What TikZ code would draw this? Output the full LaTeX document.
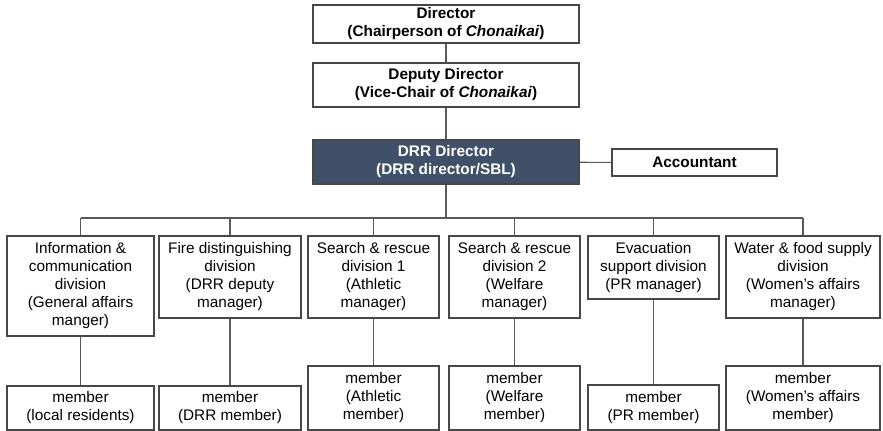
\documentclass[tikz,border=0pt]{standalone}
\usepackage{fontspec}
\setmainfont{Liberation Sans}
\begin{document}
\begin{tikzpicture}[x=0.75pt,y=-0.75pt,
  box/.style={draw=black!72, line width=0.8pt, fill=white, align=center,
    inner sep=0pt, font=\fontsize{11.5}{13.5}\selectfont},
  headbox/.style={box, font=\fontsize{11.5}{13.5}\selectfont\bfseries},
  leadbox/.style={headbox, fill=drrblue, text=white},
  sz/.style 2 args={minimum width=#1*0.75pt, minimum height=#2*0.75pt},
  link/.style={draw=black!65, line width=0.8pt}]
\definecolor{drrblue}{HTML}{3F5068}
\useasboundingbox (0,0) rectangle (883,431);

% leadership chain
\node[headbox, sz={266}{38}] (dir) at (446,24) {Director\\(Chairperson of \textit{Chonaikai})};
\node[headbox, sz={266}{44}] (dep) at (446,85) {Deputy Director\\(Vice-Chair of \textit{Chonaikai})};
\node[leadbox, sz={266}{44}] (drr) at (446,162) {DRR Director\\(DRR director/SBL)};
\node[headbox, sz={165}{27}] (acc) at (694.5,162.5) {Accountant};

% divisions
\node[box, sz={147}{100}] (d1) at (80.5,286) {Information \&\\communication\\division\\(General affairs\\manger)};
\node[box, sz={142}{82}] (d2) at (230,277) {Fire distinguishing\\division\\(DRR deputy\\manager)};
\node[box, sz={131}{82}] (d3) at (373.5,277) {Search \& rescue\\division 1\\(Athletic\\manager)};
\node[box, sz={131}{82}] (d4) at (514.5,277) {Search \& rescue\\division 2\\(Welfare\\manager)};
\node[box, sz={131}{63}] (d5) at (653.5,267.5) {Evacuation\\support division\\(PR manager)};
\node[box, sz={154}{82}] (d6) at (803,277) {Water \& food supply\\division\\(Women’s affairs\\manager)};

% members
\node[box, sz={147}{44}] (m1) at (80.5,408) {member\\(local residents)};
\node[box, sz={142}{44}] (m2) at (230,408) {member\\(DRR member)};
\node[box, sz={131}{64}] (m3) at (373.5,398) {member\\(Athletic\\member)};
\node[box, sz={131}{64}] (m4) at (514.5,398) {member\\(Welfare\\member)};
\node[box, sz={131}{45}] (m5) at (653.5,407.5) {member\\(PR member)};
\node[box, sz={154}{64}] (m6) at (803,398) {member\\(Women’s affairs\\member)};

% bus line under the DRR director
\coordinate (busL) at (80.5,218);
\coordinate (busR) at (803,218);

\begin{scope}[on background layer/.try]
\draw[link] (dir) -- (dep);
\draw[link] (dep) -- (drr);
\draw[link] (drr) -- (acc);
\draw[link] (drr.south) -- (drr.south |- busL);
\draw[link] (busL) -- (busR);
\foreach \n in {1,...,6}{
  \draw[link] (d\n.north |- busL) -- (d\n.north);
  \draw[link] (d\n) -- (m\n);
}
\end{scope}
\end{tikzpicture}
\end{document}
